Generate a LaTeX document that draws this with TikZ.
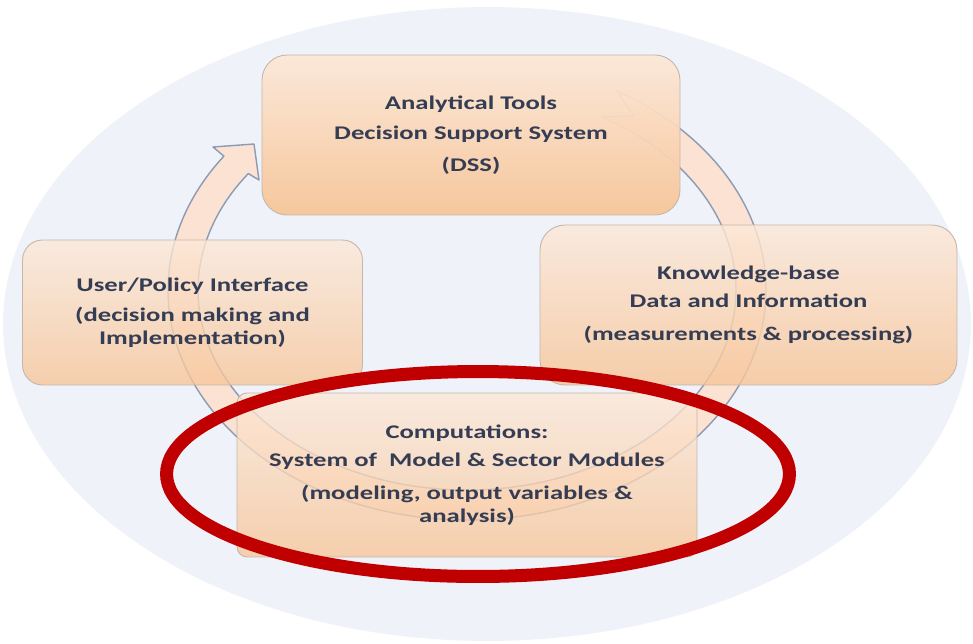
\documentclass[tikz,border=0pt]{standalone}
\usepackage{fontspec}
\setmainfont{Carlito}[FakeStretch=1.38]
\usetikzlibrary{shapes.geometric}
\definecolor{bgcol}{HTML}{EFF2F8}
\definecolor{ringfill}{HTML}{FCE2D3}
\definecolor{ringline}{HTML}{8C9AB4}
\definecolor{boxtop}{HTML}{FCE8D8}
\definecolor{boxbot}{HTML}{F7C598}
\definecolor{boxline}{HTML}{C4B6A8}
\definecolor{txtcol}{HTML}{353D54}
\definecolor{hlred}{HTML}{C00000}
\tikzset{
  stage/.style={rectangle, draw=boxline, line width=0.5pt, top color=boxtop, bottom color=boxbot,
    align=center, text=txtcol, font=\bfseries\fontsize{11}{13}\selectfont, inner sep=0pt, text opacity=1},
}
\begin{document}
\begin{tikzpicture}[x=0.02cm, y=-0.02cm]
\useasboundingbox (0,0) rectangle (973,643);
\fill[white] (0,0) rectangle (973,643);
% background ellipse
\fill[bgcol] (487,324) ellipse [x radius=9.68cm, y radius=6.34cm];
% circular arrow band
\filldraw[fill=ringfill, draw=ringline, line width=0.8pt, line join=round]
  plot[domain=60:-215.6, samples=160] ({467+299*cos(\x)},{290-230*sin(\x)})
  -- (213,147) -- (254,144) -- (259,180)
  -- plot[domain=-215.6:60, samples=160] ({467+269*cos(\x)},{290-200*sin(\x)})
  -- ({467+284*cos(54)},{290-215*sin(54)}) -- cycle;
% boxes
\node[stage, fill opacity=0.95, rounded corners=0.5cm, minimum width=8.36cm, minimum height=3.2cm]
  (dss) at (471,135) {Analytical Tools\\[4pt]Decision Support System\\[5pt](DSS)};
\node[stage, fill opacity=0.78, rounded corners=0.4cm, minimum width=6.8cm, minimum height=2.9cm]
  (user) at (192.5,312.5) {User/Policy Interface\\[4pt](decision making and\\Implementation)};
\node[stage, fill opacity=0.82, rounded corners=0.5cm, minimum width=8.34cm, minimum height=3.2cm]
  (kb) at (748.5,305) {Knowledge-base\\[3pt]Data and Information\\[6pt](measurements \& processing)};
\node[stage, fill opacity=0.78, rounded corners=0.2cm, minimum width=9.2cm, minimum height=3.28cm]
  (comp) at (467,475) {Computations:\\[3pt]System of~ Model \& Sector Modules\\[6pt](modeling, output variables \&\\analysis)};
% red highlight ellipse
\node[ellipse, draw=hlred, line width=7.4pt, minimum width=12.46cm, minimum height=4.1cm, inner sep=0pt]
  (hl) at (478,474) {};
\end{tikzpicture}
\end{document}
